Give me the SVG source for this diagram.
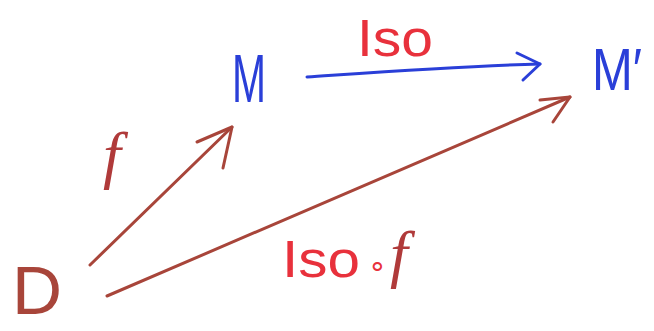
<svg xmlns="http://www.w3.org/2000/svg" width="654" height="331" viewBox="0 0 654 331">
<style>
.blue{fill:#2a3fd8;font-family:"Liberation Sans",sans-serif}
.red{fill:#e8313c;font-family:"Liberation Sans",sans-serif}
.brown{fill:#a8453a;font-family:"Liberation Sans",sans-serif}
.fl{fill:#b03a3a;font-family:"Liberation Serif",serif;font-style:italic}
.edge{fill:none;stroke-width:3;stroke-linecap:round;stroke-linejoin:round}
</style>
<rect width="654" height="331" fill="#fff"/>
<g id="node-M"><text class="blue" x="232" y="102" font-size="68" textLength="34" lengthAdjust="spacingAndGlyphs">M</text></g>
<g id="node-Mprime"><text class="blue" x="592" y="90" font-size="60" textLength="50" lengthAdjust="spacingAndGlyphs">M′</text></g>
<g id="node-D"><text class="brown" x="12" y="314" font-size="68" textLength="50" lengthAdjust="spacingAndGlyphs">D</text></g>
<g id="connectors">
  <g id="edge-iso">
    <path class="edge" stroke="#2a3fd8" d="M307,77 C380,72 460,66 540,64"/>
    <path class="edge" stroke="#2a3fd8" d="M517,53 L540,64 L523,80"/>
    <text class="red" x="357" y="56" font-size="52" textLength="76" lengthAdjust="spacingAndGlyphs">Iso</text>
  </g>
  <g id="edge-f">
    <path class="edge" stroke="#a8453a" stroke-width="2.5" d="M90,265 L232,127"/>
    <path class="edge" stroke="#a8453a" stroke-width="2.5" d="M197,142 L232,127 L223,168"/>
    <text class="fl" x="103" y="176" font-size="64">f</text>
  </g>
  <g id="edge-isof">
    <path class="edge" stroke="#a8453a" stroke-width="2.5" d="M107,296 L570,97"/>
    <path class="edge" stroke="#a8453a" stroke-width="2.5" d="M540,100 L570,97 L553,122"/>
    <text font-size="52" y="277"><tspan class="red" x="282" textLength="78" lengthAdjust="spacingAndGlyphs">Iso</tspan><tspan class="red" x="368" font-size="30" y="276">∘</tspan><tspan class="fl" x="390" y="275" font-size="64">f</tspan></text>
  </g>
</g>
</svg>
